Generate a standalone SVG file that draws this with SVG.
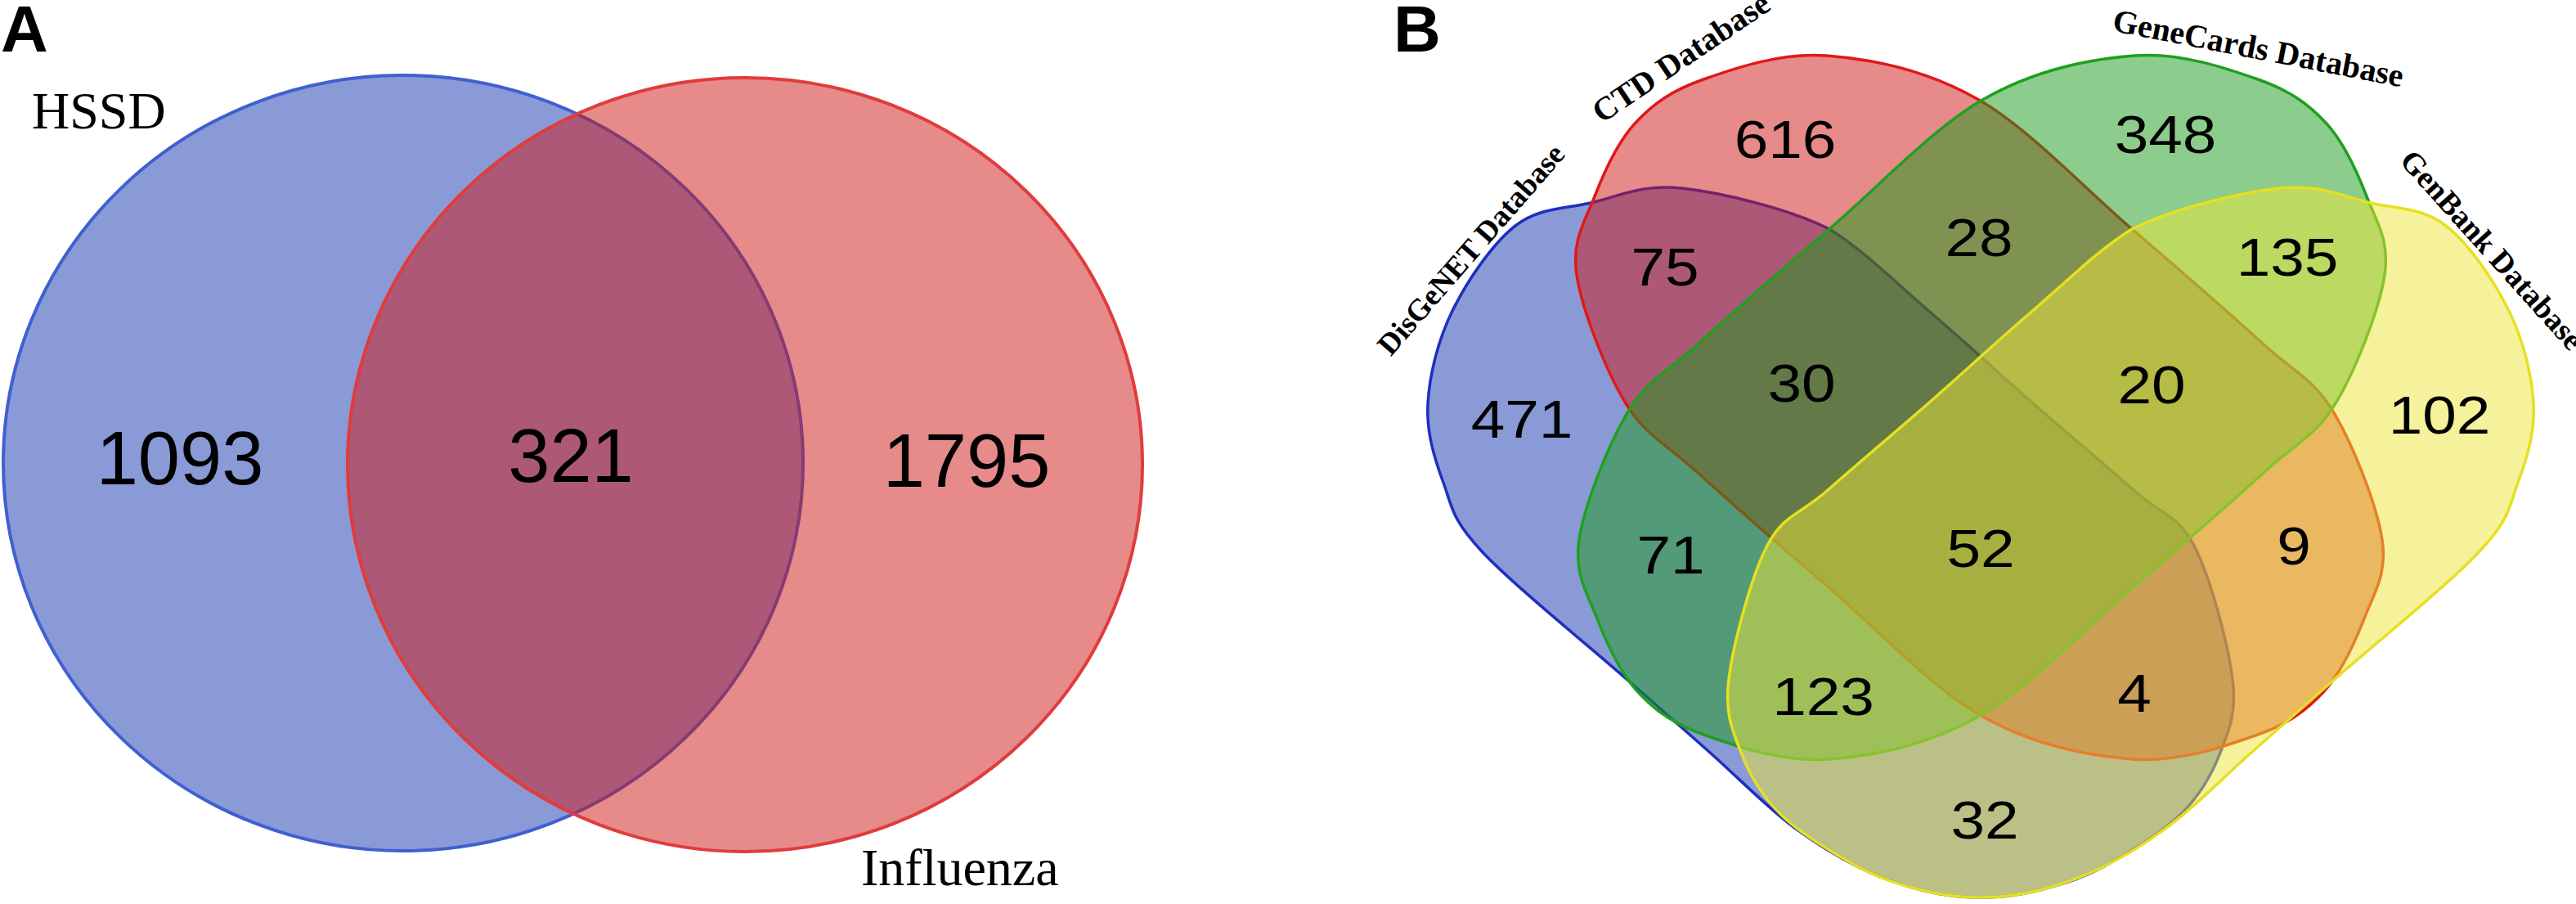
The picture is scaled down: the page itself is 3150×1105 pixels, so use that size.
<svg xmlns="http://www.w3.org/2000/svg" width="3150" height="1105" viewBox="0 0 3150 1105">
<style>
.panel{font-family:"Liberation Sans",Arial,sans-serif;font-weight:bold;font-size:80px;fill:#000}
.setname{font-family:"Liberation Serif","Times New Roman",serif;font-size:64px;fill:#000}
.dbname{font-family:"Liberation Serif","Times New Roman",serif;font-weight:bold;fill:#000;text-anchor:middle}
.numA{font-family:"Liberation Sans",Arial,sans-serif;font-size:92px;fill:#000;text-anchor:middle}
.numB{font-family:"Liberation Sans",Arial,sans-serif;font-size:65px;fill:#000;text-anchor:middle}
.sa-blue{fill:#1535b0;fill-opacity:.5;stroke:#4060d0;stroke-width:4}
.sa-red{fill:#cd1515;fill-opacity:.5;stroke:#e03c3c;stroke-width:4}
.sb-blue{fill:#1535b0;fill-opacity:.5;stroke:#1f2fbf;stroke-width:3.5}
.sb-red{fill:#cd1515;fill-opacity:.5;stroke:#e01818;stroke-width:3.5}
.sb-green{fill:#1a9a1a;fill-opacity:.5;stroke:#1ea01e;stroke-width:3.5}
.sb-yellow{fill:#ebe537;fill-opacity:.5;stroke:#e6e020;stroke-width:3.5}
</style>
<defs>
<path id="shapeOuter" d="M1746,494 C1747.83,459 1758.17,416.33 1776,380 C1793.83,343.67 1824.83,298 1853,276 C1881.17,254 1911.17,255.67 1945,248 C1978.83,240.33 2007.33,224.67 2056,230 C2104.67,235.33 2186,254.5 2237,280 C2278.5,305.5 2320.5,347.5 2362,383 C2403.5,418.5 2444.67,456.83 2486,493 C2527.33,529.17 2577.17,571 2610,600 C2642.83,629 2663,628.67 2683,667 C2703,705.33 2724.67,787.83 2730,830 C2735.33,872.17 2725.5,892.5 2715,920 C2704.5,947.5 2690.67,971.83 2667,995 C2643.33,1018.17 2601.83,1043.5 2573,1059 C2544.17,1074.5 2519.17,1081.67 2494,1088 C2468.83,1094.33 2446,1097 2422,1097 C2398,1097 2375.17,1094.33 2350,1088 C2324.83,1081.67 2298.17,1072.67 2271,1059 C2243.83,1045.33 2217.17,1029.33 2187,1006 C2156.83,982.67 2122.83,948.17 2090,919 C2057.17,889.83 2036.33,871.83 1990,831 C1943.67,790.17 1849.5,714.17 1812,674 C1774.5,633.83 1776,620 1765,590 C1754,560 1744.17,529 1746,494 Z"/>
<path id="shapeInner" d="M1928,336 C1921.7,293.8 1938,271 1950,240 C1962,209 1977.8,173.8 2000,150 C2022.2,126.2 2044.2,110.7 2083,97 C2121.8,83.3 2177.2,64 2233,68 C2288.8,72 2355.7,85.7 2418,121 C2480.3,156.3 2548.8,230.2 2607,280 C2665.2,329.8 2726,382.8 2767,420 C2808,457.2 2828.7,463 2853,503 C2877.3,543 2906.7,617.8 2913,660 C2919.3,702.2 2903,725 2891,756 C2879,787 2863.2,822.2 2841,846 C2818.8,869.8 2796.8,885.3 2758,899 C2719.2,912.7 2663.8,932 2608,928 C2552.2,924 2485.3,910.3 2423,875 C2360.7,839.7 2292.2,765.8 2234,716 C2175.8,666.2 2115,613.2 2074,576 C2033,538.8 2012.3,533 1988,493 C1963.7,453 1934.3,378.2 1928,336 Z"/>
</defs>
<rect x="0" y="0" width="3150" height="1105" fill="#ffffff"/>

<g id="panel-a">
  <text class="panel" x="1" y="63">A</text>
  <g id="set-hssd">
    <ellipse class="sa-blue" cx="493" cy="566" rx="489" ry="474"/>
    <text class="setname" x="39" y="157">HSSD</text>
  </g>
  <g id="set-influenza">
    <ellipse class="sa-red" cx="911" cy="568" rx="486" ry="473"/>
    <text class="setname" x="1053" y="1082">Influenza</text>
  </g>
  <g id="counts-a">
    <text class="numA" x="220" y="592">1093</text>
    <text class="numA" x="698" y="589">321</text>
    <text class="numA" x="1182" y="595">1795</text>
  </g>
</g>

<g id="panel-b">
  <text class="panel" x="1704" y="63">B</text>
  <g id="set-disgenet">
    <use href="#shapeOuter" class="sb-blue"/>
  </g>
  <g id="set-ctd">
    <use href="#shapeInner" class="sb-red"/>
  </g>
  <g id="set-genecards">
    <use href="#shapeInner" class="sb-green" transform="matrix(-1 0 0 1 4844 0)"/>
  </g>
  <g id="set-genbank">
    <use href="#shapeOuter" class="sb-yellow" transform="matrix(-1 0 0 1 4844 0)"/>
  </g>
  <g id="set-labels">
    <text class="dbname" font-size="37" transform="translate(1808,313) rotate(-49)">DisGeNET Database</text>
    <text class="dbname" font-size="40" transform="translate(2063,81) rotate(-34)">CTD Database</text>
    <text class="dbname" font-size="40" transform="translate(2759,72) rotate(11)">GeneCards Database</text>
    <text class="dbname" font-size="38" transform="translate(3038,314) rotate(48)">GenBank Database</text>
  </g>
  <g id="counts-b">
    <text class="numB" transform="translate(1861,535) scale(1.15,1)">471</text>
    <text class="numB" transform="translate(2183,193) scale(1.15,1)">616</text>
    <text class="numB" transform="translate(2648,187) scale(1.15,1)">348</text>
    <text class="numB" transform="translate(2983,530) scale(1.15,1)">102</text>
    <text class="numB" transform="translate(2036,349) scale(1.15,1)">75</text>
    <text class="numB" transform="translate(2420,313) scale(1.15,1)">28</text>
    <text class="numB" transform="translate(2797,337) scale(1.15,1)">135</text>
    <text class="numB" transform="translate(2203,491) scale(1.15,1)">30</text>
    <text class="numB" transform="translate(2631,493) scale(1.15,1)">20</text>
    <text class="numB" transform="translate(2043,701) scale(1.15,1)">71</text>
    <text class="numB" transform="translate(2422,693) scale(1.15,1)">52</text>
    <text class="numB" transform="translate(2805,690) scale(1.15,1)">9</text>
    <text class="numB" transform="translate(2229.5,874) scale(1.15,1)">123</text>
    <text class="numB" transform="translate(2610,870) scale(1.15,1)">4</text>
    <text class="numB" transform="translate(2427,1025) scale(1.15,1)">32</text>
  </g>
</g>
<g id="connectors"/>
</svg>
